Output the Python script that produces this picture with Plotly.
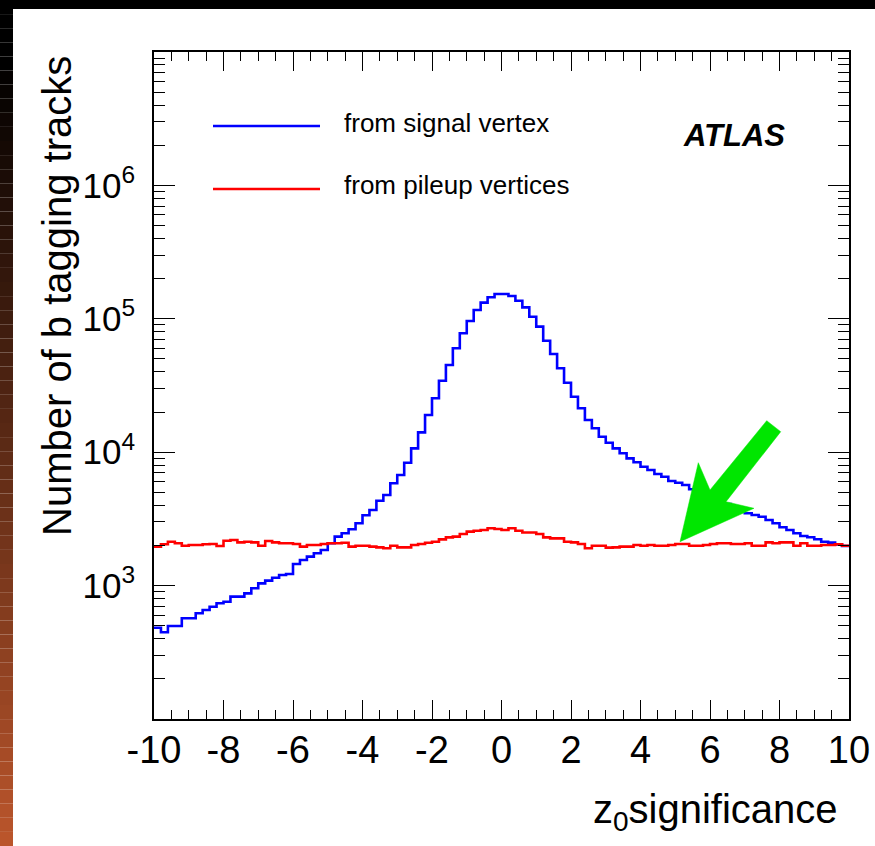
import numpy as np
import plotly.graph_objects as go

# ---------------- data ----------------
bin_edges = np.linspace(-10, 10, 101)  # 100 bins of width 0.2

signal_vertex = [
    483, 447, 498, 498, 569, 569, 620, 656, 695, 737,
    757, 826, 826, 875, 955, 1040, 1089, 1146, 1200, 1222,
    1452, 1556, 1648, 1746, 1849, 2075, 2328, 2466, 2642, 2931,
    3365, 3690, 4325, 4775, 5845, 6745, 8340, 10690, 14090, 19010,
    25350, 34360, 45080, 60120, 77840, 96160, 116400, 132100, 144900, 153400,
    153400, 148200, 136700, 121900, 103700, 87300, 68500, 54480, 42560, 33190,
    26060, 21330, 17420, 15100, 13060, 11780, 10690, 9810, 8995, 8400,
    7780, 7360, 6870, 6550, 6085, 5905, 5675, 5270, 5035, 4775,
    4540, 4305, 4090, 3880, 3690, 3483, 3380, 3280, 3105, 2931,
    2735, 2612, 2466, 2355, 2301, 2223, 2133, 2099, 2032, 1982,
]

pileup_vertices = [
    1960, 2040, 2130, 2075, 1990, 2015, 2015, 2040, 2050, 1982,
    2170, 2198, 2110, 2130, 2110, 1990, 2158, 2110, 2075, 2075,
    2050, 1960, 2015, 2015, 2050, 2075, 2075, 2095, 1960, 1990,
    1990, 1960, 1935, 1905, 1990, 1935, 1935, 2015, 2050, 2095,
    2130, 2220, 2300, 2330, 2438, 2540, 2580, 2612, 2690, 2655,
    2612, 2690, 2580, 2500, 2500, 2438, 2300, 2260, 2260, 2130,
    2110, 2050, 1905, 1990, 1990, 1925, 1935, 1960, 1960, 2015,
    1990, 2015, 1990, 1990, 2015, 2050, 2050, 1990, 1990, 2015,
    2050, 2075, 2075, 2050, 2050, 2075, 1990, 1990, 2110, 2075,
    2110, 2110, 1990, 2075, 1990, 1990, 2015, 2015, 2040, 1990,
]

series_names = ["from signal vertex", "from pileup vertices"]
series_colors = ["#0000ff", "#ff0000"]

x_tickvals = [-10, -8, -6, -4, -2, 0, 2, 4, 6, 8, 10]
x_ticktext = ["-10", "-8", "-6", "-4", "-2", "0", "2", "4", "6", "8", "10"]
y_tickvals = [1e3, 1e4, 1e5, 1e6]
y_ticktext = ["10<sup>3</sup>", "10<sup>4</sup>", "10<sup>5</sup>", "10<sup>6</sup>"]

# ---------------- geometry ----------------
W, H = 875, 846
L, R, T, B = 154, 849, 52, 719
PW, PH = R - L, B - T


def px(xp):
    return (xp - L) / PW


def py(yp):
    return (B - yp) / PH


fig = go.Figure()

for vals, name, col in zip([signal_vertex, pileup_vertices], series_names, series_colors):
    xs = list(bin_edges)
    ys = list(vals) + [vals[-1]]
    fig.add_trace(go.Scatter(
        x=xs, y=ys, mode="lines", line=dict(color=col, width=2.6, shape="hv"),
        name=name, showlegend=False, hoverinfo="skip"))

shapes = []
# black band at top
shapes.append(dict(type="rect", xref="paper", yref="paper", layer="above",
                   x0=px(0), x1=px(W), y0=py(9), y1=py(0),
                   fillcolor="black", line=dict(width=0)))
# left gradient strip (black -> brown/orange)
n = 60
for k in range(n):
    y0p = k * H / n
    y1p = (k + 1) * H / n
    t = max(0.0, ((y0p + y1p) / 2 - 60) / (H - 60))
    c = (int(188 * t), int(86 * t), int(44 * t))
    shapes.append(dict(type="rect", xref="paper", yref="paper", layer="above",
                       x0=px(0), x1=px(13), y0=py(y1p), y1=py(y0p),
                       fillcolor="rgb(%d,%d,%d)" % c, line=dict(width=0)))

# legend line samples
for ypx, col in [(126, series_colors[0]), (189, series_colors[1])]:
    shapes.append(dict(type="line", xref="paper", yref="paper",
                       x0=px(213), x1=px(320), y0=py(ypx), y1=py(ypx),
                       line=dict(color=col, width=2.6)))

# green arrow
arrow_pts = [(680, 541.7), (698.3, 462.7), (710, 490), (766.7, 420.7),
             (780.7, 431.7), (726, 501.7), (754, 508.3)]
path = "M " + " L ".join("%f,%f" % (px(a), py(b)) for a, b in arrow_pts) + " Z"
shapes.append(dict(type="path", xref="paper", yref="paper", path=path,
                   fillcolor="#00e600", line=dict(color="#00e600", width=0.5)))

FONT = "Liberation Sans, Arial, Helvetica"
annotations = [
    dict(text=series_names[0], x=px(342), y=py(123), xref="paper", yref="paper",
         xanchor="left", yanchor="middle", showarrow=False,
         font=dict(family=FONT, size=26, color="black")),
    dict(text=series_names[1], x=px(342), y=py(185), xref="paper", yref="paper",
         xanchor="left", yanchor="middle", showarrow=False,
         font=dict(family=FONT, size=26, color="black")),
    dict(text="<b><i>ATLAS</i></b>", x=px(734), y=py(135), xref="paper", yref="paper",
         xanchor="center", yanchor="middle", showarrow=False,
         font=dict(family=FONT, size=31, color="black")),
    dict(text="Number of b tagging tracks", x=px(57), y=py(54), xref="paper", yref="paper",
         xanchor="center", yanchor="top", textangle=-90, showarrow=False,
         font=dict(family=FONT, size=40, color="black")),
    dict(text="z<sub>0</sub>significance", x=px(840), y=py(812), xref="paper", yref="paper",
         xanchor="right", yanchor="middle", showarrow=False,
         font=dict(family=FONT, size=40, color="black")),
]

fig.update_layout(
    width=W, height=H,
    margin=dict(l=L, r=W - R, t=T, b=H - B, pad=0, autoexpand=False),
    paper_bgcolor="white", plot_bgcolor="white",
    shapes=shapes, annotations=annotations, showlegend=False,
    xaxis=dict(range=[-10, 10], tickvals=x_tickvals, ticktext=x_ticktext,
               ticks="inside", ticklen=19, automargin=False,
               tickwidth=1.3, tickcolor="black", showline=True, linecolor="black",
               linewidth=1.8, mirror="allticks", showgrid=False, zeroline=False,
               tickfont=dict(family=FONT, size=38, color="black"), ticklabelstandoff=-4,
               minor=dict(dtick=0.5, ticks="inside", ticklen=9, tickwidth=1.3,
                          tickcolor="black", showgrid=False)),
    yaxis=dict(type="log", range=[2, 7], tickvals=y_tickvals, ticktext=y_ticktext,
               ticks="inside", ticklen=21, tickwidth=1.3, tickcolor="black",
               automargin=False,
               showline=True, linecolor="black", linewidth=1.8, mirror="allticks",
               showgrid=False, zeroline=False,
               tickfont=dict(family=FONT, size=35, color="black"),
               ticklabelstandoff=10,
               minor=dict(dtick="D1", ticks="inside", ticklen=11, tickwidth=1.3,
                          tickcolor="black", showgrid=False)),
)

fig.write_html("out.html")
